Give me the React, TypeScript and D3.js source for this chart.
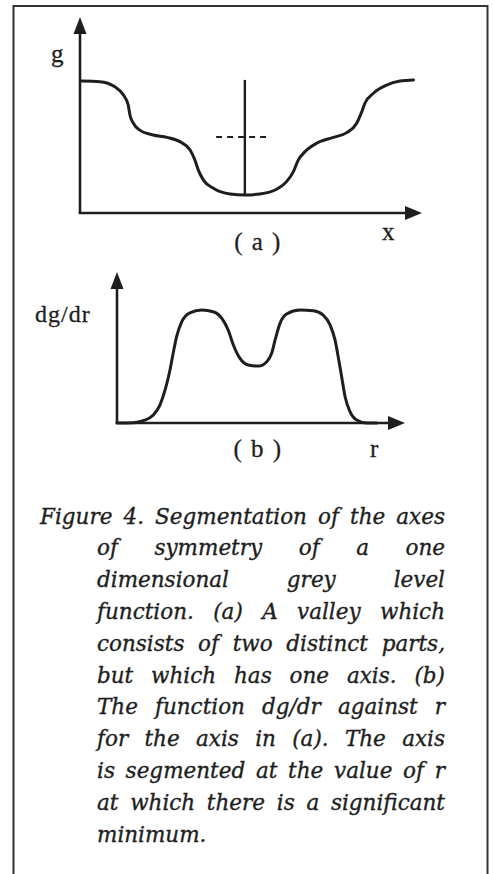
import React, { useLayoutEffect, useRef } from "react";
import * as d3 from "d3";

// (a) grey level g along x: a valley made of two distinct parts
const gX = [0.5, 5.8, 10.2, 12.7, 14.1, 14.6, 15.6, 17.5, 21.4, 25.4, 29.2, 32.2, 33.6, 34.6, 36.1, 39.0, 43.9, 48.2, 52.6, 57.5, 60.4, 62.4, 63.8, 65.8, 69.2, 74.1, 78.0, 80.9, 82.4, 83.3, 85.8, 89.7, 93.6, 97.5];
const gY = [67.3, 67.0, 64.4, 60.2, 55.1, 50.0, 45.8, 42.3, 39.8, 38.6, 36.4, 32.1, 27.0, 21.9, 16.8, 12.6, 9.7, 9.2, 9.7, 12.1, 16.0, 21.1, 27.0, 31.3, 35.6, 38.6, 41.0, 45.8, 51.7, 56.0, 61.1, 65.3, 67.3, 67.9];
// axis of symmetry and the dashed level where the valley splits
const axisX = 48.2;
const axisTop = 67.9;
const splitLevel = 38.8;
const splitRange = [39.8, 55.6];

// (b) dg/dr against r along that axis
const rX = [0, 5.7, 9.1, 12.6, 14.9, 16.7, 18.4, 19.5, 20.7, 22.5, 25.3, 29.4, 33.4, 36.4, 38.6, 40.4, 42.7, 45.6, 49.1, 52.0, 53.7, 54.9, 56.6, 58.9, 63.5, 68.2, 71.6, 74.0, 75.7, 76.8, 78.0, 79.2, 80.9, 83.2, 86.7, 90.2];
const rY = [0, 0.2, 1.5, 5.3, 11.9, 21.9, 35.1, 46.2, 57.2, 67.1, 73.0, 74.8, 73.7, 69.3, 61.6, 51.7, 42.8, 38.4, 37.7, 40.6, 46.2, 55.0, 66.0, 72.2, 74.8, 74.4, 71.5, 64.9, 55.0, 43.9, 30.7, 17.4, 7.5, 2.0, 0, 0];

const captionLines = [
  "Figure 4. Segmentation of the axes",
  "of symmetry of a one",
  "dimensional grey level",
  "function. (a) A valley which",
  "consists of two distinct parts,",
  "but which has one axis. (b)",
  "The function dg/dr against r",
  "for the axis in (a). The axis",
  "is segmented at the value of r",
  "at which there is a significant",
  "minimum.",
];

const INK = "#1e1e1e";
const labelFont = "'Liberation Serif', 'Times New Roman', serif";
const captionFont = "'DejaVu Serif', serif";

function arrowUp(x: number, y: number) {
  return `M${x},${y} L${x - 6.5},${y + 17} L${x + 6.5},${y + 17} Z`;
}
function arrowRight(x: number, y: number) {
  return `M${x},${y} L${x - 17},${y - 7} L${x - 17},${y + 7} Z`;
}

export default function App() {
  const capRef = useRef<SVGGElement>(null);

  // panel (a) scales
  const xa = d3.scaleLinear().domain([0, 100]).range([80, 422]);
  const ya = d3.scaleLinear().domain([0, 100]).range([213, 17]);
  // panel (b) scales
  const xb = d3.scaleLinear().domain([0, 100]).range([117, 405]);
  const yb = d3.scaleLinear().domain([0, 100]).range([423, 272]);

  const lineA = d3
    .line<number>()
    .x((_, i) => xa(gX[i]))
    .y((d) => ya(d))
    .curve(d3.curveMonotoneX);
  const lineB = d3
    .line<number>()
    .x((_, i) => xb(rX[i]))
    .y((d) => yb(d))
    .curve(d3.curveMonotoneX);

  // justified italic caption, laid out word by word
  useLayoutEffect(() => {
    const g = d3.select(capRef.current);
    g.selectAll("*").remove();
    const right = 445;
    const baseY = 523.5;
    const lead = 31.8;
    captionLines.forEach((line, li) => {
      const left = li === 0 ? 40 : 97;
      const words = line.split(" ");
      const nodes = words.map((w) =>
        g
          .append("text")
          .attr("y", baseY + li * lead)
          .attr("font-family", captionFont)
          .attr("font-style", "italic")
          .attr("font-size", 21.5)
          .attr("fill", INK)
          .attr("stroke", INK)
          .attr("stroke-width", 0.35)
          .text(w)
      );
      const widths = nodes.map((n) => (n.node() as SVGTextElement).getComputedTextLength());
      const total = d3.sum(widths);
      const last = li === captionLines.length - 1;
      const gap = last || words.length < 2 ? 7 : (right - left - total) / (words.length - 1);
      let x = left;
      nodes.forEach((n, i) => {
        n.attr("x", x);
        x += widths[i] + gap;
      });
    });
  }, []);

  return (
    <svg
      width={493}
      height={874}
      style={{ position: "absolute", left: 0, top: 0, background: "#fff" }}
    >
      <rect x={0} y={0} width={493} height={874} fill="#fff" />
      {/* frame */}
      <path d="M13.5,880 L13.5,6 L487.5,6 L487.5,880" fill="none" stroke="#333" strokeWidth={2} />

      {/* panel (a) */}
      <g>
        <line x1={xa(0)} y1={ya(0)} x2={xa(0)} y2={ya(100) + 15} stroke={INK} strokeWidth={2.6} />
        <path d={arrowUp(xa(0), ya(100))} fill={INK} />
        <line x1={xa(0) - 1.3} y1={ya(0)} x2={xa(100) - 15} y2={ya(0)} stroke={INK} strokeWidth={2.6} />
        <path d={arrowRight(xa(100), ya(0))} fill={INK} />
        <path d={lineA(gY) || ""} fill="none" stroke={INK} strokeWidth={3} strokeLinecap="round" />
        <line x1={xa(axisX)} y1={ya(gY[17])} x2={xa(axisX)} y2={ya(axisTop)} stroke={INK} strokeWidth={2.4} />
        <line
          x1={xa(splitRange[0])}
          y1={ya(splitLevel)}
          x2={xa(splitRange[1])}
          y2={ya(splitLevel)}
          stroke={INK}
          strokeWidth={2}
          strokeDasharray="6 5"
        />
        <text x={51} y={62} fontFamily={labelFont} fontSize={25} fill={INK} stroke={INK} strokeWidth={0.3}>g</text>
        <text x={382} y={240} fontFamily={labelFont} fontSize={25} fill={INK} stroke={INK} strokeWidth={0.3}>x</text>
        <text x={258} y={250} textAnchor="middle" fontFamily={labelFont} fontSize={25} letterSpacing={1.5} fill={INK} stroke={INK} strokeWidth={0.3}>( a )</text>
      </g>

      {/* panel (b) */}
      <g>
        <line x1={xb(0)} y1={yb(0)} x2={xb(0)} y2={yb(100) + 15} stroke={INK} strokeWidth={2.6} />
        <path d={arrowUp(xb(0), yb(100))} fill={INK} />
        <line x1={xb(0) - 1.3} y1={yb(0)} x2={xb(100) - 15} y2={yb(0)} stroke={INK} strokeWidth={2.6} />
        <path d={arrowRight(xb(100), yb(0))} fill={INK} />
        <path d={lineB(rY) || ""} fill="none" stroke={INK} strokeWidth={3} strokeLinecap="round" />
        <text x={35} y={322} fontFamily={labelFont} fontSize={24} letterSpacing={1} fill={INK} stroke={INK} strokeWidth={0.3}>dg/dr</text>
        <text x={370} y={457} fontFamily={labelFont} fontSize={25} fill={INK} stroke={INK} strokeWidth={0.3}>r</text>
        <text x={258} y={457} textAnchor="middle" fontFamily={labelFont} fontSize={25} letterSpacing={1.5} fill={INK} stroke={INK} strokeWidth={0.3}>( b )</text>
      </g>

      <g ref={capRef} />
    </svg>
  );
}
